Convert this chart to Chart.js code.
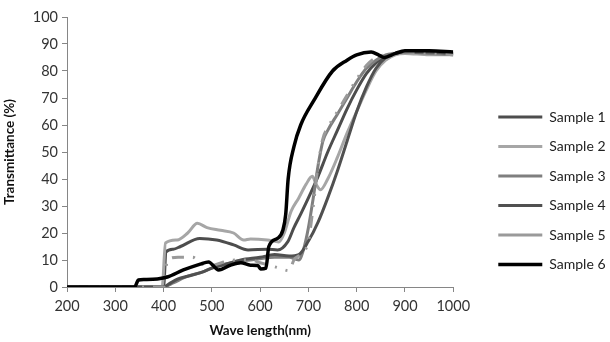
<!DOCTYPE html>
<html>
<head>
<meta charset="utf-8">
<script src="https://cdn.jsdelivr.net/npm/chart.js@4.4.1/dist/chart.umd.min.js"></script>
<style>
  html, body { margin: 0; padding: 0; background: #fff; }
  #wrap { width: 610px; height: 342px; }
</style>
</head>
<body>
<div id="wrap"><canvas id="transChart"></canvas></div>
<script>
// ===== Transmittance spectra =====

const seriesNames = ["Sample 1", "Sample 2", "Sample 3", "Sample 4", "Sample 5", "Sample 6"];

const s1Wave  = [200, 400, 405, 420, 435, 475, 510, 545, 575, 615, 636, 657, 670, 684, 700, 720, 740, 760, 780, 800, 820, 840, 860, 880, 900, 950, 1000];
const s1Trans = [0, 0, 13, 14, 15, 18, 17.4, 15.6, 13.7, 14, 13.7, 16.7, 22, 27, 33, 41, 50, 58, 66, 73, 79, 83, 85.5, 86.5, 87, 87, 86.5];

const s2Wave  = [200, 397, 404, 428, 450, 470, 490, 518, 545, 566, 580, 615, 639, 650, 664, 680, 695, 708, 716, 725, 740, 760, 780, 800, 820, 840, 860, 880, 900, 950, 1000];
const s2Trans = [0, 0, 16.3, 17.4, 20, 23.6, 22, 21, 20, 17.4, 17.8, 17.4, 16.7, 20, 28, 33, 38, 41, 38, 36, 40, 48, 57, 65, 73, 80, 84, 86, 86.5, 86, 86];

const s3Wave  = [200, 400, 420, 450, 480, 500, 520, 550, 580, 600, 630, 660, 680, 690, 700, 710, 720, 730, 740, 760, 780, 800, 820, 840, 860, 880, 900, 950, 1000];
const s3Trans = [0, 0, 1.5, 4, 5.5, 7, 8, 9.5, 10, 10.5, 11, 11, 10, 14, 22, 33, 45, 54, 58, 64, 70, 76, 81, 84, 86, 86.5, 87, 86.5, 86];

const s4Wave  = [200, 400, 410, 430, 450, 480, 500, 530, 560, 600, 630, 660, 680, 700, 720, 740, 760, 780, 800, 820, 840, 860, 880, 900, 950, 1000];
const s4Trans = [0, 0, 1, 3, 4, 5.5, 7, 8.5, 10, 11, 12, 11.5, 12, 17, 24, 33, 43, 54, 65, 74, 81, 85, 86.5, 87, 87, 86.5];

const s5Wave  = [200, 400, 408, 430, 460, 480, 500, 520, 550, 580, 600, 620, 640, 660, 670, 690, 700, 710, 720, 730, 740, 760, 780, 800, 820, 840, 860, 900, 950, 1000];
const s5Trans = [0, 0, 10, 11, 11, 8.5, 8, 9, 10, 10, 9, 8, 7, 6, 10, 13, 17, 30, 45, 55, 59, 65, 71, 77, 82, 85, 86, 87, 86.5, 86];

const s6Wave  = [200, 340, 348, 360, 387, 408, 441, 476, 493, 514, 539, 560, 580, 595, 601, 612, 618, 636, 647, 653, 658, 670, 684, 711, 750, 780, 800, 830, 845, 857, 880, 900, 950, 1000];
const s6Trans = [0, 0, 2.6, 2.8, 3, 3.7, 6.3, 8.5, 9.3, 6.3, 8.1, 9, 8.1, 8, 6.7, 7, 15, 18, 21, 27, 40, 52, 60, 69, 80, 84, 86, 87, 86, 85, 86.5, 87.5, 87.5, 87];

const xTicks = [200, 300, 400, 500, 600, 700, 800, 900, 1000];
const yTicks = [0, 10, 20, 30, 40, 50, 60, 70, 80, 90, 100];

// line looks per sample
const lineColors = ["#4d4d4d", "#a6a6a6", "#7f7f7f", "#505050", "#9a9a9a", "#000000"];
const lineDashes = [[], [], [], [], [12, 9, 2, 9, 2, 9], []];

const waves = [s1Wave, s2Wave, s3Wave, s4Wave, s5Wave, s6Wave];
const trans = [s1Trans, s2Trans, s3Trans, s4Trans, s5Trans, s6Trans];

Chart.defaults.font.family = "Lato, 'Liberation Sans', sans-serif";
Chart.defaults.color = "#333";

const axisGray = "#868686";

const datasets = seriesNames.map((name, i) => ({
  label: name,
  data: waves[i].map((w, k) => ({ x: w, y: trans[i][k] })),
  borderColor: lineColors[i],
  backgroundColor: lineColors[i],
  borderWidth: i === 5 ? 3.5 : 3,
  borderDash: lineDashes[i],
  pointRadius: 0,
  fill: false,
  cubicInterpolationMode: "monotone",
  order: 5 - i            // later samples drawn on top, like the original
}));

// push the legend a bit to the right, away from the plot
const legendShift = {
  id: "legendShift",
  afterLayout(chart) {
    if (chart.legend) {
      chart.legend.left += 29.5;
      chart.legend.right += 29.5;
    }
  }
};

new Chart(document.getElementById("transChart"), {
  type: "line",
  data: { datasets },
  plugins: [legendShift],
  options: {
    responsive: true,
    maintainAspectRatio: false,
    animation: false,
    layout: { padding: { top: 17, left: 0, right: 24, bottom: 0 } },
    plugins: {
      tooltip: { enabled: false },
      legend: {
        position: "right",
        align: "end",
        fullSize: false,
        labels: {
          usePointStyle: true,
          pointStyle: "line",
          pointStyleWidth: 44,
          padding: 15.5,
          color: "#222",
          font: { size: 14 },
          sort: (a, b) => a.datasetIndex - b.datasetIndex
        }
      }
    },
    scales: {
      x: {
        type: "linear",
        min: 200,
        max: 1000,
        afterBuildTicks: s => { s.ticks = xTicks.map(v => ({ value: v })); },
        afterFit: s => { s.height = 55; },
        ticks: { font: { size: 14.5 }, color: "#333", padding: 6, maxRotation: 0, callback: v => String(v) },
        grid: { display: true, drawOnChartArea: false, drawTicks: true, tickLength: 5, color: axisGray },
        border: { color: axisGray },
        title: {
          display: true,
          text: "Wave length(nm)",
          font: { size: 13.5, weight: "bold" },
          color: "#111",
          padding: { top: 2, bottom: 3 }
        }
      },
      y: {
        min: 0,
        max: 100,
        afterBuildTicks: s => { s.ticks = yTicks.map(v => ({ value: v })); },
        afterFit: s => { s.width = 67; },
        ticks: { font: { size: 14.5 }, color: "#333", padding: 4, callback: v => String(v) },
        grid: { display: true, drawOnChartArea: false, drawTicks: true, tickLength: 5, color: axisGray },
        border: { color: axisGray },
        title: {
          display: true,
          text: "Transmittance (%)",
          font: { size: 13.5, weight: "bold" },
          color: "#111",
          padding: { top: 2, bottom: 2 }
        }
      }
    }
  }
});
</script>
</body>
</html>
